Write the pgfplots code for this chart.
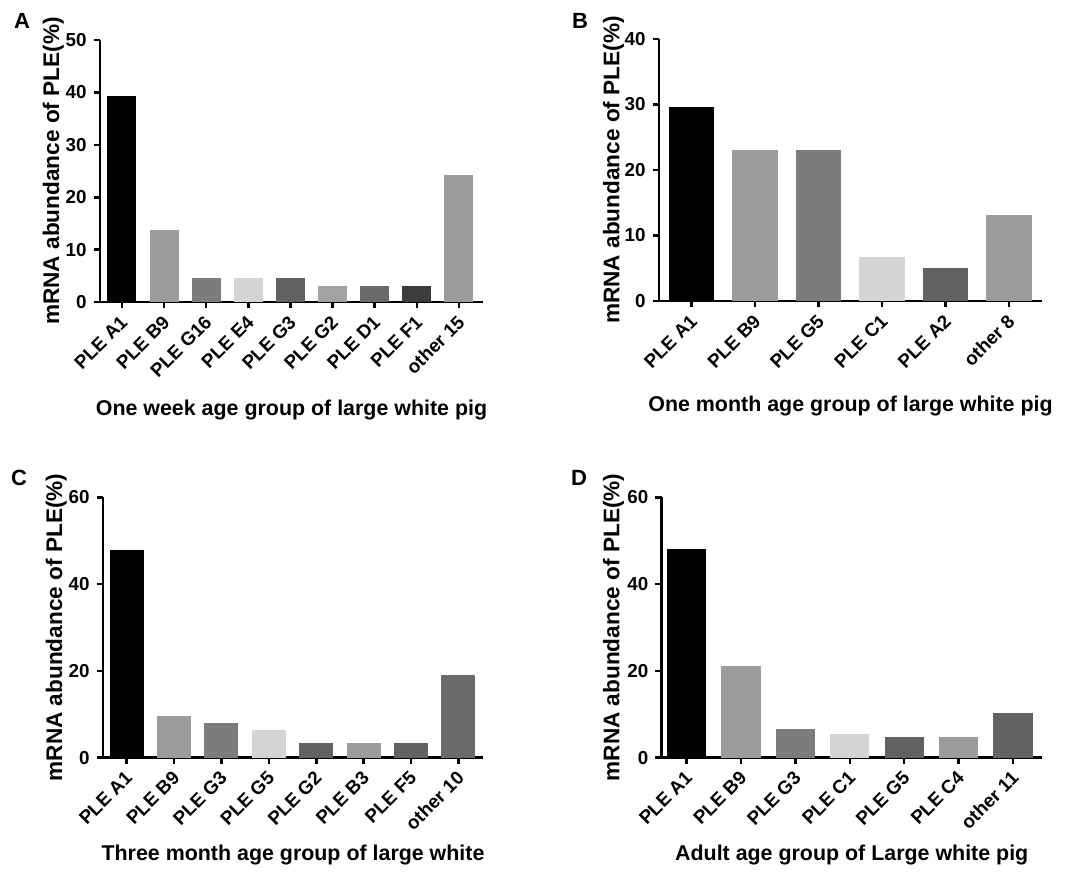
\documentclass[border=0pt]{standalone}
\usepackage{fontspec}
\setmainfont{Liberation Sans}
\usepackage{pgfplots}
\pgfplotsset{compat=1.18}

\definecolor{cK}{HTML}{000000}
\definecolor{cG1}{HTML}{9C9C9C}
\definecolor{cG2}{HTML}{7C7C7C}
\definecolor{cG3}{HTML}{D5D5D5}
\definecolor{cG4}{HTML}{626262}
\definecolor{cG5}{HTML}{A2A2A2}
\definecolor{cG6}{HTML}{6A6A6A}
\definecolor{cG7}{HTML}{3C3C3C}

\pgfplotsset{
  pig/.style={
    scale only axis,
    axis lines=left,
    axis line style={-, line width=1.3pt},
    ymin=0,
    ybar, bar shift=0pt,
    tick align=outside,
    major tick length=3.2pt,
    tick style={line width=1.3pt, black},
    /pgf/number format/assume math mode=true,
    ticklabel style={font=\fontsize{9.4}{11}\selectfont\bfseries},
    xticklabel style={rotate=45, anchor=east, yshift=-4.5pt, xshift=0.5pt},
    every axis x label/.style={anchor=center, font=\fontsize{10.7}{12}\selectfont\bfseries},
    every axis y label/.style={rotate=90, anchor=center, font=\fontsize{11.3}{12}\selectfont\bfseries},
    every axis plot/.append style={draw=none},
    clip=false,
  }
}

\begin{document}
\begin{tikzpicture}
\useasboundingbox (0,0) rectangle (539.5pt,437.5pt);

\node[font=\fontsize{11}{12}\selectfont\bfseries] at (11pt,427pt) {A};
\node[font=\fontsize{11}{12}\selectfont\bfseries] at (290pt,427pt) {B};
\node[font=\fontsize{11}{12}\selectfont\bfseries] at (9.5pt,198.5pt) {C};
\node[font=\fontsize{11}{12}\selectfont\bfseries] at (289.5pt,198.5pt) {D};

% Panel A
\begin{axis}[pig,
  at={(50pt,286.5pt)}, anchor=south west,
  width=191.5pt, height=131pt,
  xmin=-0.52, xmax=8.57, ymax=50,
  ytick={0,10,20,30,40,50},
  xtick={0,1,2,3,4,5,6,7,8},
  bar width=14.5pt,
  xticklabels={PLE A1,PLE B9,PLE G16,PLE E4,PLE G3,PLE G2,PLE D1,PLE F1,other 15},
  xlabel={One week age group of large white pig},
  ylabel={mRNA abundance of PLE(\%)},
  xlabel style={at={(axis description cs:0.5,-0.412)}},
  ylabel style={at={(axis description cs:-0.122,0.5)}},
]
\addplot[fill=cK] coordinates {(0,39.4)};
\addplot[fill=cG1] coordinates {(1,13.7)};
\addplot[fill=cG2] coordinates {(2,4.65)};
\addplot[fill=cG3] coordinates {(3,4.65)};
\addplot[fill=cG4] coordinates {(4,4.65)};
\addplot[fill=cG5] coordinates {(5,3.06)};
\addplot[fill=cG6] coordinates {(6,3.06)};
\addplot[fill=cG7] coordinates {(7,3.06)};
\addplot[fill=cG1] coordinates {(8,24.3)};
\end{axis}

% Panel B
\begin{axis}[pig,
  at={(329.5pt,287pt)}, anchor=south west,
  width=191.5pt, height=131pt,
  xmin=-0.515, xmax=5.52, ymax=40,
  ytick={0,10,20,30,40},
  xtick={0,1,2,3,4,5},
  bar width=22.8pt,
  xticklabels={PLE A1,PLE B9,PLE G5,PLE C1,PLE A2,other 8},
  xlabel={One month age group of large white pig},
  ylabel={mRNA abundance of PLE(\%)},
  xlabel style={at={(axis description cs:0.5,-0.401)}},
  ylabel style={at={(axis description cs:-0.119,0.5)}},
]
\addplot[fill=cK] coordinates {(0,29.6)};
\addplot[fill=cG1] coordinates {(1,23.0)};
\addplot[fill=cG2] coordinates {(2,23.0)};
\addplot[fill=cG3] coordinates {(3,6.7)};
\addplot[fill=cG4] coordinates {(4,5.1)};
\addplot[fill=cG1] coordinates {(5,13.1)};
\end{axis}

% Panel C
\begin{axis}[pig,
  at={(51.5pt,58.65pt)}, anchor=south west,
  width=190pt, height=130.2pt,
  xmin=-0.5, xmax=7.52, ymax=60,
  ytick={0,20,40,60},
  xtick={0,1,2,3,4,5,6,7},
  bar width=17pt,
  xticklabels={PLE A1,PLE B9,PLE G3,PLE G5,PLE G2,PLE B3,PLE F5,other 10},
  xlabel={Three month age group of large white},
  ylabel={mRNA abundance of PLE(\%)},
  xlabel style={at={(axis description cs:0.5,-0.3725)}},
  ylabel style={at={(axis description cs:-0.123,0.5)}},
]
\addplot[fill=cK] coordinates {(0,47.9)};
\addplot[fill=cG1] coordinates {(1,9.7)};
\addplot[fill=cG2] coordinates {(2,8.1)};
\addplot[fill=cG3] coordinates {(3,6.4)};
\addplot[fill=cG4] coordinates {(4,3.3)};
\addplot[fill=cG1] coordinates {(5,3.3)};
\addplot[fill=cG4] coordinates {(6,3.3)};
\addplot[fill=cG6] coordinates {(7,19.05)};
\end{axis}

% Panel D
\begin{axis}[pig,
  at={(330.85pt,58.65pt)}, anchor=south west,
  width=190pt, height=130.2pt,
  xmin=-0.46, xmax=6.53, ymax=60,
  ytick={0,20,40,60},
  xtick={0,1,2,3,4,5,6},
  bar width=19.6pt,
  xticklabels={PLE A1,PLE B9,PLE G3,PLE C1,PLE G5,PLE C4,other 11},
  xlabel={Adult age group of Large white pig},
  ylabel={mRNA abundance of PLE(\%)},
  xlabel style={at={(axis description cs:0.5,-0.3725)}},
  ylabel style={at={(axis description cs:-0.127,0.5)}},
]
\addplot[fill=cK] coordinates {(0,48.1)};
\addplot[fill=cG1] coordinates {(1,21.2)};
\addplot[fill=cG2] coordinates {(2,6.7)};
\addplot[fill=cG3] coordinates {(3,5.5)};
\addplot[fill=cG4] coordinates {(4,4.8)};
\addplot[fill=cG1] coordinates {(5,4.8)};
\addplot[fill=cG4] coordinates {(6,10.2)};
\end{axis}
\end{tikzpicture}
\end{document}
